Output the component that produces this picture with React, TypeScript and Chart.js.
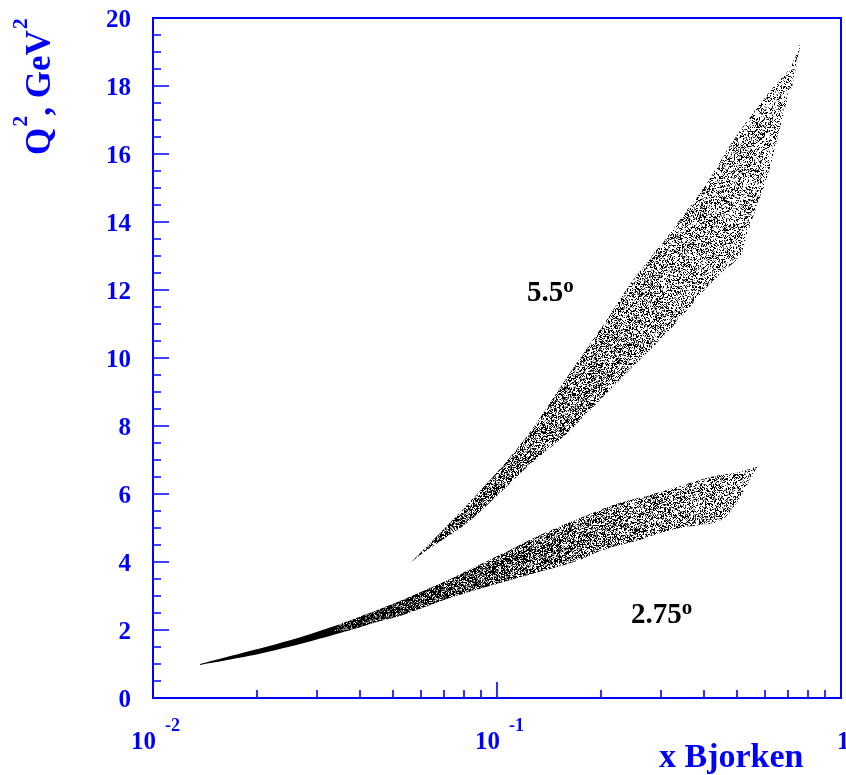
import { useEffect, useRef } from "react";
import { Chart, registerables } from "chart.js";

Chart.register(...registerables);

const W = 846;
const H = 775;

// Axis ranges
const X_MIN = 0.01;
const X_MAX = 1;
const Y_MIN = 0;
const Y_MAX = 20;
const Y_MAJOR_STEP = 2;
const Y_MINOR_STEP = 0.5;
const X_DECADES = [0.01, 0.1];
const X_DECADE_MULTIPLIERS = [1, 2, 3, 4, 5, 6, 7, 8, 9];

// y-axis tick labels
const Y_LABELS = [0, 2, 4, 6, 8, 10, 12, 14, 16, 18, 20];

// x-axis decade labels: mantissa and exponent
const X_LABELS: { value: number; base: string; exp: string }[] = [
  { value: 0.01, base: "10", exp: "-2" },
  { value: 0.1, base: "10", exp: "-1" },
  { value: 1, base: "1", exp: "" },
];

// Kinematic coverage at 2.75 deg: upper and lower edges of the band (x_Bj, Q2 in GeV^2)
const BAND_275_UPPER: [number, number][] = [
  [0.0137, 1.0], [0.0191, 1.38], [0.0268, 1.79], [0.035, 2.18], [0.0457, 2.62],
  [0.0522, 2.85], [0.073, 3.5], [0.102, 4.21], [0.133, 4.79], [0.174, 5.29],
  [0.228, 5.74], [0.279, 5.97], [0.364, 6.32], [0.416, 6.5], [0.509, 6.65], [0.57, 6.79],
];
const BAND_275_LOWER: [number, number][] = [
  [0.0137, 0.97], [0.0191, 1.24], [0.0268, 1.59], [0.035, 1.91], [0.0457, 2.26],
  [0.0522, 2.41], [0.073, 2.94], [0.102, 3.38], [0.133, 3.71], [0.174, 4.06],
  [0.199, 4.32], [0.228, 4.5], [0.26, 4.65], [0.298, 4.85], [0.34, 5.0],
  [0.389, 5.09], [0.436, 5.18], [0.476, 5.44], [0.509, 5.91], [0.544, 6.41], [0.57, 6.79],
];

// Kinematic coverage at 5.5 deg
const BAND_55_UPPER: [number, number][] = [
  [0.0559, 3.97], [0.0652, 4.65], [0.0818, 5.68], [0.1069, 6.97], [0.1272, 7.94],
  [0.16, 9.44], [0.199, 10.82], [0.2485, 12.29], [0.312, 13.56], [0.357, 14.35],
  [0.408, 15.15], [0.436, 15.62], [0.475, 16.24], [0.533, 16.97], [0.593, 17.59],
  [0.652, 18.09], [0.711, 18.53], [0.76, 19.21],
];
const BAND_55_LOWER: [number, number][] = [
  [0.0559, 3.97], [0.0626, 4.35], [0.0818, 5.15], [0.102, 6.03], [0.1222, 6.79],
  [0.16, 7.79], [0.199, 8.76], [0.2485, 9.74], [0.312, 10.74], [0.357, 11.41],
  [0.408, 12.09], [0.485, 12.79], [0.509, 12.94], [0.533, 13.62], [0.555, 14.15],
  [0.593, 14.94], [0.622, 15.62], [0.652, 16.41], [0.678, 17.09], [0.725, 18.09],
  [0.76, 18.97],
];

// Angle labels placed in data coordinates
const ANGLE_LABELS: { x: number; q2: number; text: string }[] = [
  { x: 0.1222, q2: 11.68, text: "5.5" },
  { x: 0.2453, q2: 2.21, text: "2.75" },
];

const X_TITLE = "x Bjorken";

const BLUE = "#0000ff";
const SERIF = '"Liberation Serif", "Times New Roman", serif';

// Closed outline: along the upper edge, then back along the lower edge
function outline(upper: [number, number][], lower: [number, number][]) {
  const pts = upper.map(([x, y]) => ({ x, y }));
  for (let i = lower.length - 2; i >= 0; i--) pts.push({ x: lower[i][0], y: lower[i][1] });
  return pts;
}

function hash(x: number, y: number, seed: number) {
  let h = Math.imul(x, 374761393) ^ Math.imul(y, 668265263) ^ Math.imul(seed, 2246822519);
  h = Math.imul(h ^ (h >>> 13), 1274126177);
  h ^= h >>> 16;
  return (h >>> 0) / 4294967296;
}

// Stipple texture whose dot density changes with horizontal canvas position
function stipple(stops: [number, number][], seed: number): CanvasPattern | string {
  const th = 128;
  const c = document.createElement("canvas");
  c.width = W;
  c.height = th;
  const g = c.getContext("2d");
  if (!g) return "#333";
  const img = g.createImageData(W, th);
  const density = (px: number) => {
    if (px <= stops[0][0]) return stops[0][1];
    for (let i = 1; i < stops.length; i++) {
      if (px <= stops[i][0]) {
        const t = (px - stops[i - 1][0]) / (stops[i][0] - stops[i - 1][0]);
        return stops[i - 1][1] + t * (stops[i][1] - stops[i - 1][1]);
      }
    }
    return stops[stops.length - 1][1];
  };
  for (let px = 0; px < W; px++) {
    const d = density(px);
    for (let py = 0; py < th; py++) {
      if (hash(px, py, seed) < d) {
        const i = (py * W + px) * 4;
        img.data[i] = 0;
        img.data[i + 1] = 0;
        img.data[i + 2] = 0;
        img.data[i + 3] = d >= 0.99 || hash(py, px, seed + 7) < 0.7 ? 255 : 130;
      }
    }
  }
  g.putImageData(img, 0, 0);
  return g.createPattern(c, "repeat") || "#333";
}

function drawSup(
  ctx: CanvasRenderingContext2D,
  x: number,
  y: number,
  base: string,
  sup: string,
  baseSize: number,
  supSize: number,
  rise: number,
  gap = 1
) {
  ctx.font = `bold ${baseSize}px ${SERIF}`;
  ctx.fillText(base, x, y);
  let w = ctx.measureText(base).width;
  if (sup) {
    ctx.font = `bold ${supSize}px ${SERIF}`;
    ctx.fillText(sup, x + w + gap, y - rise);
    w += gap + ctx.measureText(sup).width;
  }
  return w;
}

const frameAndLabels = {
  id: "frameAndLabels",
  afterDraw(chart: Chart) {
    const { ctx, chartArea: a } = chart;
    const xs = chart.scales.x;
    const ys = chart.scales.y;
    ctx.save();

    // frame
    ctx.strokeStyle = BLUE;
    ctx.lineWidth = 2;
    ctx.strokeRect(a.left, a.top, a.right - a.left, a.bottom - a.top);

    // inward ticks on the y axis
    ctx.lineWidth = 1.6;
    ctx.beginPath();
    for (let v = Y_MIN + Y_MINOR_STEP; v < Y_MAX; v += Y_MINOR_STEP) {
      const y = Math.round(ys.getPixelForValue(v));
      const len = Math.abs(v % Y_MAJOR_STEP) < 1e-6 ? 16 : 8;
      ctx.moveTo(a.left, y);
      ctx.lineTo(a.left + len, y);
    }
    // inward ticks on the x axis
    for (const d of X_DECADES) {
      for (const m of X_DECADE_MULTIPLIERS) {
        const v = d * m;
        if (v <= X_MIN || v >= X_MAX) continue;
        const x = Math.round(xs.getPixelForValue(v));
        const len = m === 1 ? 16 : 8;
        ctx.moveTo(x, a.bottom);
        ctx.lineTo(x, a.bottom - len);
      }
    }
    ctx.stroke();

    ctx.fillStyle = BLUE;

    // y tick labels
    ctx.font = `bold 25px ${SERIF}`;
    ctx.textAlign = "right";
    ctx.textBaseline = "alphabetic";
    for (const v of Y_LABELS) {
      ctx.fillText(String(v), a.left - 22, ys.getPixelForValue(v) + 9);
    }

    // x decade labels
    for (const lab of X_LABELS) {
      const x = xs.getPixelForValue(lab.value);
      ctx.font = `bold 25px ${SERIF}`;
      if (lab.exp) {
        ctx.textAlign = "right";
        ctx.fillText(lab.base, x + 3, a.bottom + 51);
        ctx.textAlign = "left";
        ctx.font = `bold 18px ${SERIF}`;
        ctx.fillText(lab.exp, x + 12, a.bottom + 33);
      } else {
        ctx.textAlign = "left";
        ctx.fillText(lab.base, x - 4, a.bottom + 51);
      }
    }

    // x-axis title
    ctx.textAlign = "left";
    ctx.font = `bold 34px ${SERIF}`;
    ctx.fillText(X_TITLE, 659, a.bottom + 69);

    // y-axis title, rotated
    ctx.save();
    ctx.translate(50, 155);
    ctx.rotate(-Math.PI / 2);
    const off = drawSup(ctx, 0, 0, "Q", "2", 35, 22, 23, 1);
    drawSup(ctx, off, 0, ", GeV", "2", 35, 22, 23, 1);
    ctx.restore();

    // angle labels
    ctx.fillStyle = "#000";
    ctx.textAlign = "left";
    for (const l of ANGLE_LABELS) {
      const x = xs.getPixelForValue(l.x);
      const y = ys.getPixelForValue(l.q2);
      drawSup(ctx, x, y, l.text, "o", 29, 21, 9, 0);
    }

    ctx.restore();
  },
};

export default function App() {
  const ref = useRef<HTMLCanvasElement>(null);

  useEffect(() => {
    const canvas = ref.current;
    if (!canvas) return;

    const fill275 = stipple(
      [[330, 1], [420, 0.86], [500, 0.74], [600, 0.56], [680, 0.48], [760, 0.38]],
      11
    );
    const fill55 = stipple(
      [[410, 0.74], [470, 0.66], [550, 0.56], [650, 0.46], [750, 0.37], [800, 0.3]],
      29
    );

    const band = (data: { x: number; y: number }[], bg: CanvasPattern | string) => ({
      data,
      showLine: true,
      fill: "shape" as const,
      backgroundColor: bg,
      borderColor: "rgba(0,0,0,0)",
      borderWidth: 0,
      pointRadius: 0,
      pointHoverRadius: 0,
      tension: 0.3,
    });

    const chart = new Chart(canvas, {
      type: "scatter",
      data: {
        datasets: [
          band(outline(BAND_275_UPPER, BAND_275_LOWER), fill275),
          band(outline(BAND_55_UPPER, BAND_55_LOWER), fill55),
        ],
      },
      options: {
        animation: false,
        responsive: false,
        events: [],
        layout: { padding: { left: 0, top: 18, right: 5, bottom: 0 } },
        plugins: { legend: { display: false }, tooltip: { enabled: false } },
        scales: {
          x: {
            type: "logarithmic",
            min: X_MIN,
            max: X_MAX,
            grid: { display: false, drawTicks: false },
            border: { display: false },
            ticks: { display: false },
            afterFit: (s: any) => {
              s.height = 77;
            },
          },
          y: {
            type: "linear",
            min: Y_MIN,
            max: Y_MAX,
            grid: { display: false, drawTicks: false },
            border: { display: false },
            ticks: { display: false, stepSize: Y_MAJOR_STEP },
            afterFit: (s: any) => {
              s.width = 153;
            },
          },
        },
      },
      plugins: [frameAndLabels],
    });

    return () => chart.destroy();
  }, []);

  return (
    <div style={{ position: "absolute", left: 0, top: 0, width: W, height: H, background: "#fff" }}>
      <canvas ref={ref} width={W} height={H} style={{ display: "block" }} />
    </div>
  );
}
